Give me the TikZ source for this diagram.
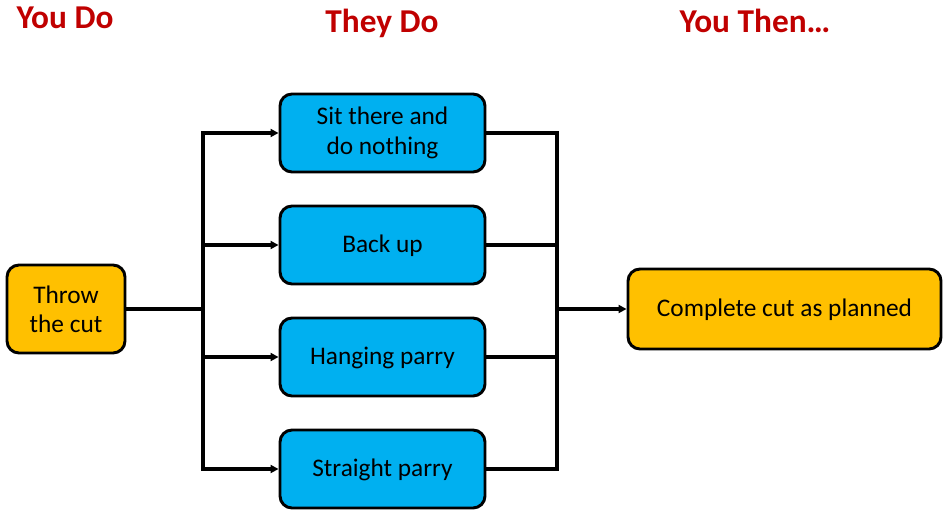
\documentclass[tikz,border=0pt]{standalone}
\usepackage{fontspec}
\setmainfont{Carlito}
\usetikzlibrary{arrows.meta,calc}
\usetikzlibrary{positioning}
\definecolor{boxblue}{HTML}{00B0F0}
\definecolor{boxgold}{HTML}{FFC000}
\definecolor{headred}{HTML}{C00000}

\begin{document}
\begin{tikzpicture}[x = .75pt, y = -.75pt,
        choice/.style = {draw, line width = 2.2pt, rounded corners = 9pt, fill = boxblue,
                align = center, minimum width = 153.75pt, minimum height = 58.5pt,
                font = \fontsize{19}{22}\selectfont, execute at begin node = \rule{0pt}{15pt}},
        action/.style = {draw, line width = 2.2pt, rounded corners = 9pt, fill = boxgold,
                align = center, font = \fontsize{19}{22}\selectfont, execute at begin node = \rule{0pt}{15pt}},
        heading/.style = {anchor = base, text = headred, font = \fontsize{25}{28}\selectfont\bfseries},
        wire/.style = {line width = 2.4pt},
        feed/.style = {wire, -{Triangle[length = 6pt, width = 6pt]}}]
        \useasboundingbox (0, 0) rectangle (952, 517);

        \node [heading] (youdo) at (65, 29) {You Do};
        \node [heading] (theydo) at (382, 33) {They Do};
        \node [heading] (youthen) at (755, 33) {You Then…};

        \node [action, minimum width = 88.5pt, minimum height = 66pt] (throw) at (66, 309) {Throw\\the cut};
        \node [choice] (sit) at (382.5, 133) {Sit there and\\do nothing};
        \node [choice] (back) at (382.5, 245) {Back up};
        \node [choice] (hang) at (382.5, 357) {Hanging parry};
        \node [choice] (straight) at (382.5, 469) {Straight parry};
        \node [action, minimum width = 234.75pt, minimum height = 60pt] (complete) at (784.5, 309) {Complete cut as planned};

        % splitting bus on the left, joining bus on the right
        \coordinate (split) at (203, 309);
        \coordinate (join) at (557, 309);
        \draw[wire] (throw.east) to (split);
        \draw[wire, line cap = rect] (split |- sit) to (split |- straight);
        \foreach \opt in {sit, back, hang, straight} {
                \draw[feed] (split |- \opt) to (\opt.west);
                \draw[wire] (\opt.east) to (join |- \opt);
        }
        \draw[wire, line cap = rect] (join |- sit) to (join |- straight);
        \draw[feed] (join) to (complete.west);
\end{tikzpicture}
\end{document}
